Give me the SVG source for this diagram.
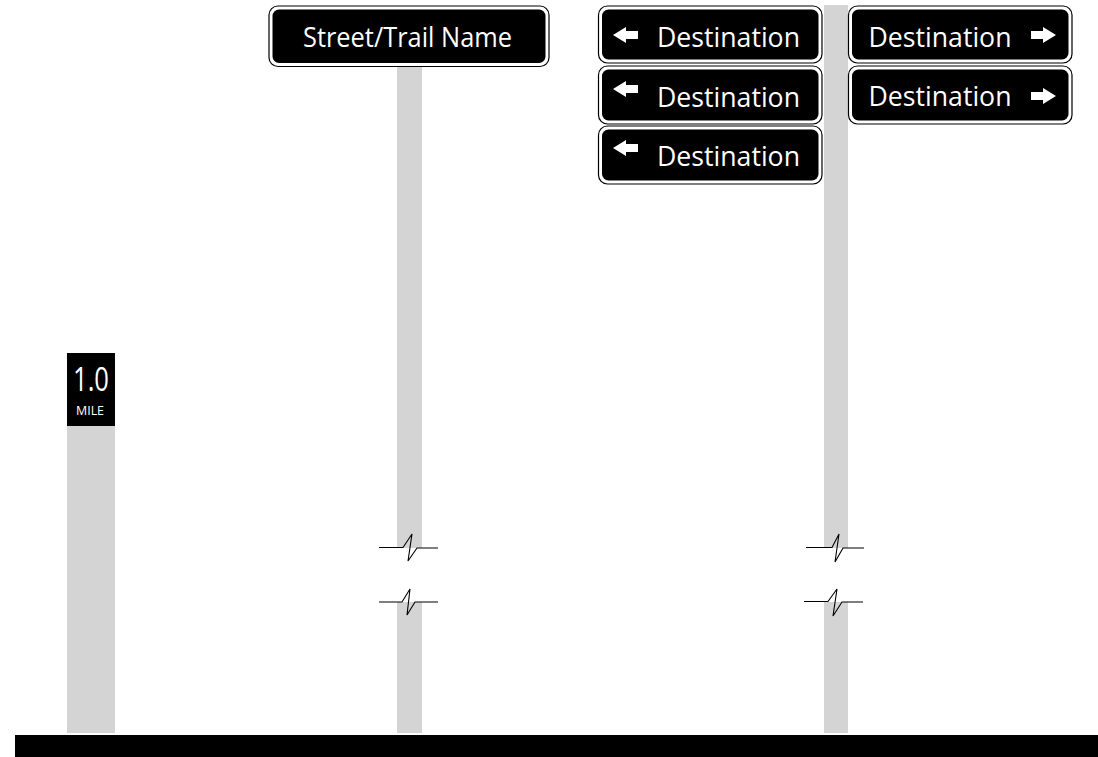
<svg xmlns="http://www.w3.org/2000/svg" width="1098" height="757" viewBox="0 0 1098 757">
<style>
.post{fill:#d4d4d4}
.outer{fill:#fff;stroke:#000;stroke-width:1.2}
.inner{fill:#000}
.t{fill:#fff;font-family:"Open Sans","Liberation Sans",sans-serif;font-size:28px}
.arr{fill:#fff}
.brk{fill:none;stroke:#000;stroke-width:1.1;stroke-linejoin:miter}
</style>
<rect width="1098" height="757" fill="#fff"/>
<g id="posts">
  <rect class="post" x="67" y="426" width="48" height="307"/>
  <rect class="post" x="397" y="66" width="25" height="482"/>
  <rect class="post" x="397" y="602" width="25" height="131"/>
  <rect class="post" x="824" y="5" width="24" height="543"/>
  <rect class="post" x="824" y="602" width="24" height="131"/>
</g>
<g id="breaks">
  <polyline class="brk" points="379,547.5 403,547.5 412,534 408,561 417,548 438,548"/>
  <polyline class="brk" points="379,602 402,602 410,589 407,615 415,602 438,602"/>
  <polyline class="brk" points="806,547.5 832,547.5 839,534 835,562 843,548 864,548"/>
  <polyline class="brk" points="804,601.5 828,601.5 837,589 833,616 842,602 863,602"/>
</g>
<rect id="ground" x="15" y="735" width="1083" height="22" fill="#000"/>
<g id="mile-marker">
  <rect x="67" y="353" width="48" height="73" fill="#000"/>
  <text x="91" y="391" text-anchor="middle" fill="#fff" font-family="'Open Sans','Liberation Sans',sans-serif" font-size="33" textLength="36" lengthAdjust="spacingAndGlyphs">1.0</text>
  <text x="90" y="415" text-anchor="middle" fill="#fff" font-family="'Open Sans','Liberation Sans',sans-serif" font-size="12" textLength="28" lengthAdjust="spacingAndGlyphs">MILE</text>
</g>
<g id="street-sign">
  <rect class="outer" x="269" y="6" width="280" height="60.5" rx="9"/>
  <rect class="inner" x="272.5" y="9.5" width="273" height="53.5" rx="6.5"/>
  <text class="t" x="407.5" y="47" text-anchor="middle" font-size="27" textLength="209" lengthAdjust="spacingAndGlyphs">Street/Trail Name</text>
</g>
<g id="dest-left-1">
  <rect class="outer" x="598.5" y="6" width="223.5" height="57" rx="9"/>
  <rect class="inner" x="602" y="9.5" width="216.5" height="50" rx="6.5"/>
  <path class="arr" d="M613,35 L626,27 L626,31 L638,31 L638,39 L626,39 L626,43 Z"/>
  <text class="t" x="728.5" y="47" text-anchor="middle" font-size="29" textLength="143" lengthAdjust="spacingAndGlyphs">Destination</text>
</g>
<g id="dest-left-2">
  <rect class="outer" x="598.5" y="66" width="223.5" height="58" rx="9"/>
  <rect class="inner" x="602" y="69.5" width="216.5" height="51" rx="6.5"/>
  <path class="arr" d="M613,89 L626,81 L626,85 L638,85 L638,93 L626,93 L626,97 Z"/>
  <text class="t" x="728.5" y="107" text-anchor="middle" font-size="29" textLength="143" lengthAdjust="spacingAndGlyphs">Destination</text>
</g>
<g id="dest-left-3">
  <rect class="outer" x="598.5" y="126" width="223.5" height="58" rx="9"/>
  <rect class="inner" x="602" y="129.5" width="216.5" height="51" rx="6.5"/>
  <path class="arr" d="M613,148 L626,140 L626,144 L638,144 L638,152 L626,152 L626,156 Z"/>
  <text class="t" x="728.5" y="166" text-anchor="middle" font-size="29" textLength="143" lengthAdjust="spacingAndGlyphs">Destination</text>
</g>
<g id="dest-right-1">
  <rect class="outer" x="848.5" y="6" width="223.5" height="57" rx="9"/>
  <rect class="inner" x="852" y="9.5" width="216.5" height="50" rx="6.5"/>
  <path class="arr" d="M1056,35 L1043,27 L1043,31 L1031,31 L1031,39 L1043,39 L1043,43 Z"/>
  <text class="t" x="940" y="47" text-anchor="middle" font-size="29" textLength="143" lengthAdjust="spacingAndGlyphs">Destination</text>
</g>
<g id="dest-right-2">
  <rect class="outer" x="848.5" y="66" width="223.5" height="58" rx="9"/>
  <rect class="inner" x="852" y="69.5" width="216.5" height="51" rx="6.5"/>
  <path class="arr" d="M1056,96 L1043,88 L1043,92 L1031,92 L1031,100 L1043,100 L1043,104 Z"/>
  <text class="t" x="940" y="106" text-anchor="middle" font-size="29" textLength="143" lengthAdjust="spacingAndGlyphs">Destination</text>
</g>
</svg>
